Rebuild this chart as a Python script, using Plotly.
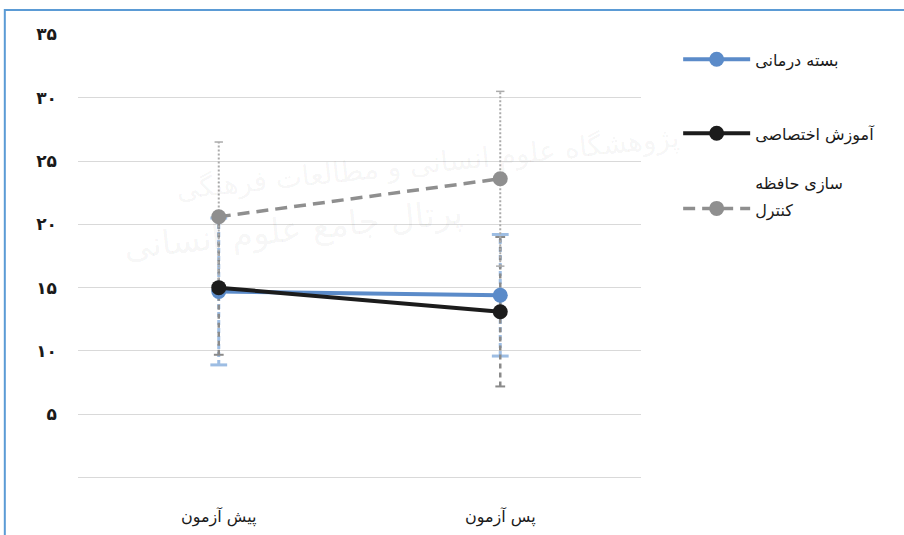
import plotly.graph_objects as go

# ---- data ----
categories = ["پیش آزمون", "پس آزمون"]
series_names = ["بسته درمانی", "آموزش اختصاصی", "سازی حافظه", "کنترل"]
mean_package = [14.7, 14.4]
sd_package = [5.8, 4.8]
mean_memory = [15.0, 13.1]
sd_memory = [5.3, 5.9]
mean_control = [20.6, 23.6]
sd_control = [5.9, 6.9]
y_tickvals = [0, 5, 10, 15, 20, 25, 30, 35]
y_ticktext = ["", "<b>۵</b>", "<b>۱۰</b>", "<b>۱۵</b>", "<b>۲۰</b>", "<b>۲۵</b>", "<b>۳۰</b>", "<b>۳۵</b>"]

FONT = "DejaVu Sans"


def span(t):
    return f"<span style='font-size:16px'>{t}</span>"


legend_labels = [
    span(series_names[0]),
    span(series_names[1]) + "<br><br>" + span(series_names[2]),
    span(series_names[3]),
]

series = [
    dict(name=legend_labels[0], mean=mean_package, sd=sd_package, group="g0",
         color="#5b8bc9", dash="solid", width=4,
         ecolor="#9dbde3", edash="5px,3px", ewidth=3, capsize=12, capw=3),
    dict(name=legend_labels[1], mean=mean_memory, sd=sd_memory, group="g1",
         color="#1c1c1c", dash="solid", width=4,
         ecolor="#8a8a8a", edash="5px,4px", ewidth=2.5, capsize=7, capw=2),
    dict(name=legend_labels[2], mean=mean_control, sd=sd_control, group="g1",
         color="#8f8f8f", dash="12px,7px", width=3.5,
         ecolor="#ababab", edash="2px,2px", ewidth=2, capsize=6, capw=1.5),
]

fig = go.Figure()

# faint watermark text
fig.add_annotation(text="پژوهشگاه علوم انسانی و مطالعات فرهنگی", x=0.62, y=0.81,
                   xref="paper", yref="paper", showarrow=False, textangle=-6,
                   font=dict(family=FONT, size=28, color="rgba(0,0,0,0.05)"))
fig.add_annotation(text="پرتال جامع علوم انسانی", x=0.69, y=0.56,
                   xref="paper", yref="paper", showarrow=False, textangle=-6,
                   font=dict(family=FONT, size=34, color="rgba(0,0,0,0.05)"))

# error bars (drawn first, behind lines)
for s in series:
    xs, ys, cx, cy = [], [], [], []
    for c, m, d in zip(categories, s["mean"], s["sd"]):
        xs += [c, c, None]
        ys += [m - d, m + d, None]
        cx += [c, c]
        cy += [m - d, m + d]
    fig.add_trace(go.Scatter(x=xs, y=ys, mode="lines", showlegend=False,
                             hoverinfo="skip",
                             line=dict(color=s["ecolor"], width=s["ewidth"], dash=s["edash"])))
    fig.add_trace(go.Scatter(x=cx, y=cy, mode="markers", showlegend=False,
                             hoverinfo="skip",
                             marker=dict(symbol="line-ew", size=s["capsize"],
                                         line=dict(color=s["ecolor"], width=s["capw"]))))

# mean lines
for s in series:
    fig.add_trace(go.Scatter(x=categories, y=s["mean"], mode="lines+markers",
                             name=s["name"], legendgroup=s["group"],
                             line=dict(color=s["color"], width=s["width"], dash=s["dash"]),
                             marker=dict(size=15, color=s["color"])))

# chart frame (blue border, left and top visible)
fig.add_shape(type="rect", xref="paper", yref="paper",
              x0=-0.13, x1=1.52, y0=-0.3, y1=1.054,
              line=dict(color="#5b9bd5", width=2), layer="below")

fig.update_layout(
    width=904, height=535,
    margin=dict(l=78, r=263, t=34, b=57, autoexpand=False),
    paper_bgcolor="white", plot_bgcolor="white",
    font=dict(family=FONT, size=16, color="#1a1a1a"),
    legend=dict(x=1.066, xanchor="left", y=0.985, yanchor="top",
                font=dict(family=FONT, size=18.5, color="#1a1a1a"),
                tracegroupgap=47, valign="top", bgcolor="rgba(0,0,0,0)",
                itemwidth=67),
    xaxis=dict(type="category", range=[-0.5, 1.5], showgrid=False,
               showline=False, zeroline=False, ticks="", automargin=False,
               ticklabelstandoff=27,
               tickfont=dict(family=FONT, size=16, color="#1a1a1a")),
    yaxis=dict(range=[-0.03, 35.03], tickvals=y_tickvals, ticktext=y_ticktext,
               showgrid=True, gridcolor="#d9d9d9", gridwidth=1,
               zeroline=True, zerolinecolor="#d9d9d9", zerolinewidth=1,
               showline=False, ticks="", automargin=False,
               ticklabelstandoff=20,
               tickfont=dict(family=FONT, size=17, color="#1a1a1a")),
)

fig.write_html("out.html")
